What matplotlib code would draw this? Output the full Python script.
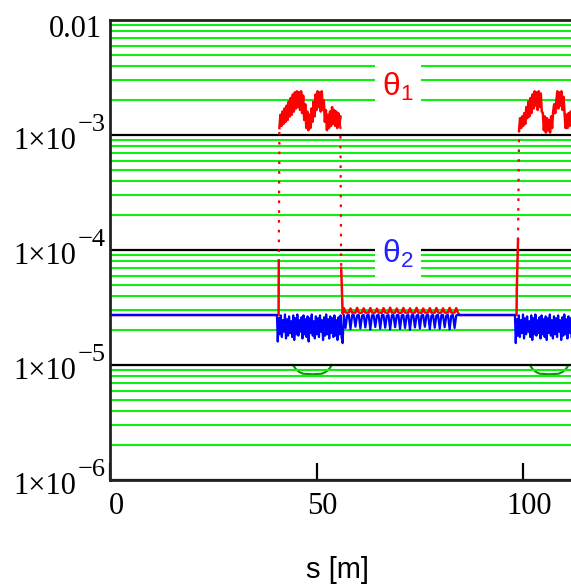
import numpy as np
import matplotlib
matplotlib.use("Agg")
import matplotlib.pyplot as plt
from matplotlib.ticker import LogLocator, NullFormatter, FixedLocator
from matplotlib.transforms import blended_transform_factory, ScaledTranslation

# ---------------- data ----------------
# blue trace (theta_2), noisy parts in units of 1e-5
blue_flat = 2.72
blue_A = [1.60, 2.55, 1.85, 2.70, 1.75, 2.45, 1.95, 2.75, 1.70, 2.50, 1.80, 2.65, 1.90, 2.40, 1.75, 2.70,
          1.65, 2.55, 1.85, 2.75, 1.80, 2.45, 1.95, 2.60, 1.70, 2.70, 1.85, 2.50, 1.75, 2.65, 1.60, 2.55,
          1.90, 2.75, 1.80, 2.40, 1.70, 2.65, 1.85, 2.55, 1.75, 2.70, 1.95, 2.45, 1.65, 2.60, 1.80, 2.75,
          1.85, 2.50, 1.70, 2.65, 1.90, 2.55, 1.75, 2.70, 1.80, 2.45, 1.65, 2.60, 1.85, 2.70, 1.75, 1.55]
blue_B = [2.72, 2.10, 2.70, 2.72, 2.05, 2.71, 2.72, 2.15, 2.70, 2.72, 2.08, 2.69, 2.72, 2.12, 2.71,
          2.72, 2.03, 2.70, 2.72, 2.14, 2.70, 2.72, 2.07, 2.71, 2.72, 2.11, 2.69, 2.72, 2.04, 2.70,
          2.72, 2.13, 2.71, 2.72, 2.06, 2.70, 2.72, 2.10, 2.69, 2.72, 2.02, 2.71, 2.72, 2.12, 2.70,
          2.72, 2.08, 2.70, 2.72, 2.15, 2.71, 2.72, 2.05, 2.69, 2.72, 2.11, 2.70, 2.72, 2.07, 2.71,
          2.72, 2.13, 2.70, 2.72, 2.04, 2.69, 2.72, 2.10, 2.70, 2.72]
blue_C = [1.55, 2.50, 1.80, 2.70, 1.75, 2.45, 1.90, 2.75, 1.70, 2.55, 1.85, 2.65, 1.95, 2.40, 1.75, 2.70,
          1.65, 2.55, 1.85, 2.75, 1.80, 2.45, 1.90, 2.60, 1.70, 2.70, 1.85, 2.50, 1.75, 2.65, 1.65, 2.55,
          1.90, 2.75, 1.80, 2.45, 1.70, 2.65, 1.85, 2.55, 1.75, 2.70, 1.95, 2.45, 1.65, 2.60, 1.80, 2.75,
          1.85, 2.50, 1.70, 2.65, 1.90, 2.55, 1.75]

# red trace (theta_1): magnet parts in units of 1e-3, drift part in 1e-5
red_A = [1.15, 1.50, 1.20, 1.60, 1.25, 1.70, 1.30, 1.80, 1.35, 1.95, 1.45,
         2.10, 1.50, 2.25, 1.60, 2.35, 1.70,
         2.40, 1.75, 2.35, 1.65, 2.40, 1.55, 2.20,
         1.35, 1.85, 1.15, 1.60, 1.10, 1.50, 1.15, 1.70, 1.30,
         1.95, 1.45, 2.25, 1.65, 2.40, 1.75, 2.35, 1.60, 2.40, 1.65,
         2.00, 1.30, 1.65, 1.10, 1.50, 1.15,
         1.60, 1.20, 1.75, 1.25, 1.65, 1.20, 1.60, 1.15, 1.55, 1.20, 1.45]
red_B = [3.12, 2.86, 2.85, 2.86, 3.10, 2.85, 2.86, 2.85, 3.14, 2.86, 2.84, 2.86, 3.11, 2.85, 2.86, 2.85,
         3.13, 2.86, 2.85, 2.86, 3.09, 2.85, 2.86, 2.84, 3.12, 2.86, 2.85, 2.86, 3.15, 2.85, 2.86, 2.85,
         3.10, 2.86, 2.84, 2.86, 3.13, 2.85, 2.86, 2.85, 3.11, 2.86, 2.85, 2.86, 3.14, 2.85, 2.86, 2.84,
         3.10, 2.86, 2.85, 2.86, 3.12, 2.85, 2.86, 2.85, 3.13, 2.86, 2.84, 2.86, 3.11, 2.85, 2.86, 2.85,
         3.14, 2.86, 2.85, 2.86, 3.12, 2.85]
red_C = [1.10, 1.40, 1.15, 1.45, 1.20, 1.55,
         1.25, 1.75, 1.40, 1.95, 1.45, 2.10, 1.55, 2.25,
         1.70, 2.40, 1.80, 2.35, 1.65, 2.40, 1.75, 2.30, 1.60,
         1.55, 1.10, 1.45, 1.05, 1.40, 1.10, 1.35, 1.05, 1.45, 1.15, 1.60,
         1.85, 1.55, 1.95, 2.40, 1.70, 2.35, 1.80, 2.40, 1.65, 2.15,
         1.55, 1.15, 1.50, 1.15, 1.55, 1.20, 1.60, 1.25]
red_edge_up_1 = [2.72e-5, 7.9e-5]       # step at entry of first magnet
red_edge_down_1 = [7.0e-5, 2.8e-5]      # step at exit of first magnet
red_edge_up_2 = [2.72e-5, 4.5e-5, 1.22e-4]

# green trace: s positions [m] and values in 1e-6
green_s = [0.0, 44.3, 45.0, 45.8, 46.7, 48.0, 49.0, 50.0, 51.3, 52.2, 53.0, 53.7,
           101.6, 102.3, 103.1, 104.0, 105.3, 106.3, 107.3, 108.6, 109.5, 110.3, 111.0, 111.7]
green_v = [10.0, 10.0, 9.2, 8.7, 8.4, 8.35, 8.3, 8.35, 8.4, 8.7, 9.2, 10.0,
           10.0, 9.2, 8.7, 8.4, 8.35, 8.3, 8.35, 8.4, 8.7, 9.2, 10.0, 10.0]

xtick_values = [0, 50, 100]
xtick_labels = ["0", "50", "100"]
ytick_values = [1e-6, 1e-5, 1e-4, 1e-3, 1e-2]
ytick_mantissa = ["1×10", "1×10", "1×10", "1×10", "0.01"]
ytick_exponent = ["−6", "−5", "−4", "−3", ""]
x_label = "s [m]"
label_theta1 = r"$\mathrm{\theta}_{\mathrm{1}}$"
label_theta2 = r"$\mathrm{\theta}_{\mathrm{2}}$"

# ---------------- assemble series ----------------
blue_s = np.concatenate([[0.0, 40.4],
                         np.linspace(40.6, 56.3, len(blue_A)),
                         np.linspace(56.6, 84.2, len(blue_B)),
                         [84.6, 98.0],
                         np.linspace(98.2, 111.7, len(blue_C))])
blue_v = np.concatenate([[blue_flat, blue_flat], blue_A, blue_B,
                         [blue_flat, blue_flat], blue_C]) * 1e-5

red_s = np.concatenate([[0.0, 40.8, 40.85],
                        np.linspace(41.0, 55.75, len(red_A)),
                        [55.95, 56.3],
                        np.linspace(56.6, 84.2, len(red_B)),
                        [84.6, 98.4, 98.45, 98.75],
                        np.linspace(99.0, 111.75, len(red_C))])
red_v = np.concatenate([[blue_flat * 1e-5], red_edge_up_1,
                        np.array(red_A) * 1e-3,
                        red_edge_down_1,
                        np.array(red_B) * 1e-5,
                        [blue_flat * 1e-5], red_edge_up_2,
                        np.array(red_C) * 1e-3])

# ---------------- figure ----------------
plt.rcParams["mathtext.fontset"] = "custom"
plt.rcParams["mathtext.rm"] = "Liberation Sans"
plt.rcParams["mathtext.it"] = "Liberation Sans:italic"
plt.rcParams["mathtext.bf"] = "Liberation Sans:bold"

W, H = 571, 586
fig = plt.figure(figsize=(W / 100, H / 100), dpi=100)
ax = fig.add_axes([110 / W, 106 / H, (W - 110) / W, 460 / H])
ax.set_yscale("log")
ax.set_xlim(0, 111.57)
ax.set_ylim(1e-6, 1e-2)

GREEN = "#11ee11"
ax.yaxis.set_major_locator(FixedLocator(ytick_values))
ax.yaxis.set_minor_locator(LogLocator(base=10, subs=np.arange(2, 10)))
ax.yaxis.set_major_formatter(NullFormatter())
ax.yaxis.set_minor_formatter(NullFormatter())
ax.set_axisbelow(True)
ax.grid(True, which="major", axis="y", color="black", lw=1.6)
ax.grid(True, which="minor", axis="y", color=GREEN, lw=1.5)
ax.tick_params(axis="y", which="both", length=0)

ax.set_xticks(xtick_values)
ax.set_xticklabels(xtick_labels, fontfamily="Liberation Serif", fontsize=22)
ax.tick_params(axis="x", direction="in", length=12, width=1.6, pad=9, color="black")
for lab in ax.get_xticklabels():
    lab.set_transform(lab.get_transform() + ScaledTranslation(6 / 100, 0, fig.dpi_scale_trans))

for side in ["left", "bottom", "top"]:
    ax.spines[side].set_linewidth(2.0)
    ax.spines[side].set_color("#222222")
ax.spines["right"].set_visible(False)

# green trace (below grid)
ax.plot(green_s, np.array(green_v) * 1e-6, color="#009a00", lw=1.5, zorder=0.3)

# red trace: steep jumps dotted
lv = np.log10(red_v)
big = np.abs(np.diff(lv)) > 0.5
rs, rv = [red_s[0]], [red_v[0]]
for i in range(len(red_s) - 1):
    if big[i]:
        rs.append(np.nan); rv.append(np.nan)
        ax.plot([red_s[i], red_s[i + 1]], [red_v[i], red_v[i + 1]], color="red",
                lw=1.6, ls=(0, (1.2, 3.2)), zorder=2)
    rs.append(red_s[i + 1]); rv.append(red_v[i + 1])
ax.plot(rs, rv, color="red", lw=1.8, zorder=2)

# blue trace on top
ax.plot(blue_s, blue_v, color="#0000ff", lw=1.6, zorder=2.2)

# y tick labels (Mathcad style 1x10^-n)
trans = blended_transform_factory(ax.transAxes, ax.transData)
for v, man, ex in zip(ytick_values, ytick_mantissa, ytick_exponent):
    if ex:
        sup = ax.annotate(ex, xy=(0, v), xycoords=trans, xytext=(-4, 4),
                          textcoords="offset pixels", ha="right", va="baseline",
                          fontfamily="Liberation Serif", fontsize=19, annotation_clip=False)
        ax.annotate(man, xy=(0, 0), xycoords=sup, xytext=(-2, -13),
                    textcoords="offset pixels", ha="right", va="baseline",
                    fontfamily="Liberation Serif", fontsize=22, annotation_clip=False)
    else:
        ax.annotate(man, xy=(0, v), xycoords=trans, xytext=(-8, -17),
                    textcoords="offset pixels", ha="right", va="baseline",
                    fontfamily="Liberation Serif", fontsize=22, annotation_clip=False)

# trace labels with white boxes
fig.text(398 / W, 1 - 96 / H, label_theta1, color="red", fontsize=23,
         ha="center", va="baseline",
         bbox=dict(facecolor="white", edgecolor="none", pad=5))
fig.text(398 / W, 1 - 263 / H, label_theta2, color="#2222ff", fontsize=23,
         ha="center", va="baseline",
         bbox=dict(facecolor="white", edgecolor="none", pad=5))

fig.text(337 / W, 1 - 578 / H, x_label, fontfamily="Liberation Sans", fontsize=21,
         ha="center", va="baseline")

fig.savefig("out.png", dpi=100)
